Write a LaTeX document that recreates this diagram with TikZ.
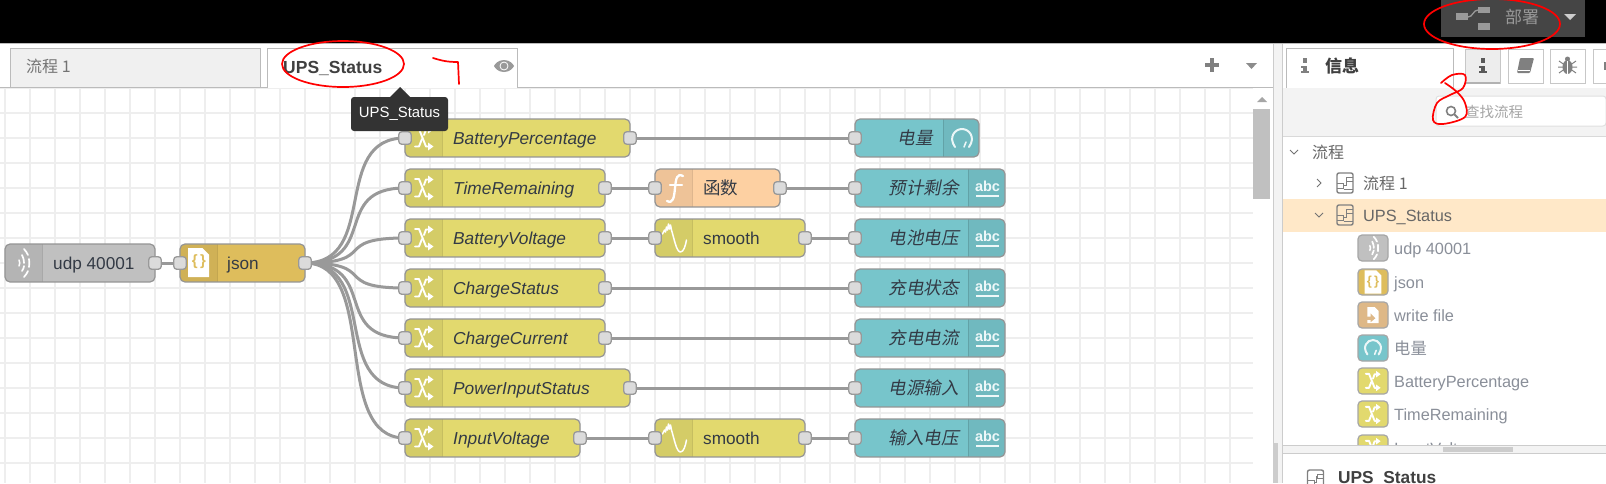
\documentclass[tikz,border=0pt]{standalone}
\usepackage{fontspec}
\setmainfont{Liberation Sans}
\newfontfamily\cjk{Noto Sans CJK SC}
\newfontfamily\cjkit[FakeSlant=0.2]{Noto Sans CJK SC}
\pgfdeclarelayer{under}
\pgfsetlayers{under,main}
\definecolor{gridc}{HTML}{EEEEEE}
\definecolor{wirec}{HTML}{999999}
\definecolor{txtc}{HTML}{333A45}
\definecolor{treec}{HTML}{8A8F99}
\definecolor{swapc}{HTML}{E2D96E}
\definecolor{jsonc}{HTML}{DEBD5C}
\definecolor{funcc}{HTML}{FDD0A2}
\definecolor{dashc}{HTML}{77C5CB}
\definecolor{udpc}{HTML}{C0C0C0}
\definecolor{filec}{HTML}{DEB887}
\definecolor{sidec}{HTML}{F3F3F3}
\definecolor{edgec}{HTML}{BBBBBB}
\definecolor{hilite}{HTML}{FFE8C8}
\newcommand{\fs}[1]{\fontsize{#1}{#1}\selectfont}
\tikzset{
  x=1pt,y=-1pt,
  wire/.style={draw=wirec,line width=3pt},
  port/.style={draw=wirec,fill=black!14,line width=1.3pt,rounded corners=3pt,minimum width=12.5pt,minimum height=12.5pt,inner sep=0pt},
  boxedge/.style={draw=black!42,line width=1.2pt,rounded corners=5pt,minimum height=38pt,inner sep=0pt},
  lbl/.style={inner sep=0pt,anchor=base west,text=txtc},
  lblr/.style={inner sep=0pt,anchor=base east,text=txtc},
  treetext/.style={inner sep=0pt,anchor=base west,text=treec},
  redmark/.style={draw=red,line width=1.7pt,line cap=round,line join=round},
  ico/.style={draw=white,line width=2pt,line cap=round},
}
% #1 name #2 x0 #3 x1 #4 y #5 fill #6 icon from #7 icon to #8 divider
\newcommand{\flownode}[8]{%
  \pgfmathsetmacro{\nw}{#3-#2}\pgfmathsetmacro{\nc}{(#3+#2)/2}%
  \begin{scope}
    \clip[rounded corners=5pt] (#2,#4-19) rectangle (#3,#4+19);
    \fill[#5] (#2,#4-19) rectangle (#3,#4+19);
    \fill[black,opacity=0.06] (#6,#4-19) rectangle (#7,#4+19);
    \draw[black,opacity=0.12,line width=1pt] (#8,#4-19) -- (#8,#4+19);
  \end{scope}
  \node[boxedge,minimum width=\nw pt] (#1) at (\nc,#4) {};
}
\newcommand{\iconswap}{%
  \draw[ico,line width=1.9pt,line join=round] (-9,-9) -- (-5,-9) -- (2,8.5) -- (5,8.5);
  \draw[ico,line width=1.9pt,line join=round] (-9,8.5) -- (-5,8.5) -- (-2,1);
  \draw[ico,line width=1.9pt,line join=round] (0,-3) -- (2,-8.5) -- (5,-8.5);
  \fill[white] (4,-12.5) -- (9.5,-8.5) -- (4,-4.5) -- cycle;
  \fill[white] (4,12.5) -- (9.5,8.5) -- (4,4.5) -- cycle;
}
\newcommand{\iconudp}{%
  \draw[ico,line width=1.5pt] (-4,-3) .. controls (-3,-1) and (-3,1) .. (-4,3);
  \draw[ico,line width=1.7pt] (-1,-8) .. controls (1,-4) and (1,-1) .. (1,0);
  \draw[ico,line width=1.7pt] (1,3) .. controls (1,5) and (0,6) .. (-1,8);
  \draw[ico,line width=1.7pt] (1,-14) .. controls (3,-12) and (4,-10) .. (5,-8);
  \draw[ico,line width=1.7pt] (6,-4) .. controls (6.5,-1) and (6.5,1) .. (6,4);
  \draw[ico,line width=1.7pt] (5,8) .. controls (4,10) and (3,12) .. (1,14);
}
\newcommand{\icondoc}{%
  \fill[white] (-10.5,-14.5) -- (4,-14.5) -- (10.5,-8) -- (10.5,14.5) -- (-10.5,14.5) -- cycle;
}
\newcommand{\icongauge}{%
  \draw[ico,draw=white!85!dashc,line width=2pt] (-7,8) .. controls (-14,-2) and (-7,-10) .. (0,-10) .. controls (7,-10) and (14,-2) .. (7,8);
  \draw[ico,draw=white!85!dashc,line width=1.6pt] (2,8) -- (4,3);
}
\newcommand{\iconfile}{%
  \fill[white] (-7,-10) -- (2,-10) -- (7,-5) -- (7,10) -- (-7,10) -- cycle;
  \fill[filec] (-9,2) -- (-3,2) -- (-3,-2) -- (3,4) -- (-3,9) -- (-3,6) -- (-9,6) -- cycle;
}
\newcommand{\flowicon}[1]{%
  \begin{scope}[shift={#1}]
    \draw[black!50,line width=1.4pt,rounded corners=2pt] (-8,-10) rectangle (8,10);
    \draw[black!50,line width=1pt] (8,-6) -- (1.5,-6) -- (1.5,-2) -- (8,-2);
    \draw[black!50,line width=1pt] (-8,0.5) -- (-1.5,0.5) -- (-1.5,5) -- (-8,5);
    \draw[black!50,line width=1pt] (-1.5,2) -- (1,2) -- (1,-4);
    \draw[black!50,line width=1pt] (-1.5,6) -- (8,6);
  \end{scope}
}
\newcommand{\infoicon}[3]{% x, y top, shade
  \fill[black!#3] (#1+0.5,#2) rectangle (#1+5,#2+4.5);
  \fill[black!#3] (#1-1,#2+7.5) rectangle (#1+5,#2+9.5);
  \fill[black!#3] (#1+0.5,#2+7.5) rectangle (#1+5,#2+14);
  \fill[black!#3] (#1-1,#2+13) rectangle (#1+6.5,#2+15);
}
\newcommand{\treerow}[5]{% name, y, fill, icon code, text
  \node[draw=black!35,line width=1.2pt,fill=#3,rounded corners=4pt,minimum width=30pt,minimum height=26pt,inner sep=0pt] (#1) at (1373,#2) {};
  \begin{scope}[shift={(1373,#2)},scale=0.8]#4\end{scope}
  \node[treetext] (#1t) at (1394,#2+6) {\fs{16.3}#5};
}
\begin{document}
\begin{tikzpicture}
\useasboundingbox (0,0) rectangle (1606,483);
% canvas grid
\begin{pgfonlayer}{under}
  \fill[white] (0,0) rectangle (1606,483);
  \foreach \gx in {5,30,...,1250} \draw[gridc,line width=2pt] (\gx,88) -- (\gx,483);
  \foreach \gy in {88,113,...,480} \draw[gridc,line width=2pt] (0,\gy) -- (1253,\gy);
\end{pgfonlayer}
% top bar
\fill[black] (0,0) rectangle (1606,43);
\draw[edgec,line width=1pt] (0,43.5) -- (1606,43.5);
\fill[white] (0,44) rectangle (1273,87);
\draw[edgec,line width=1pt] (0,87.5) -- (1273,87.5);
% deploy
\fill[black!73] (1441,0) rectangle (1585,37);
\fill[black!40] (1456,13) rectangle (1468,20);
\fill[black!40] (1478,7) rectangle (1490,13);
\fill[black!40] (1478,23) rectangle (1490,30);
\draw[black!40,line width=1.3pt] (1468,17) .. controls (1473,17) and (1473,10) .. (1478,10);
\node[inner sep=0pt,text=black!40] (deploy) at (1522,17) {\cjk\fs{17}部署};
\fill[black!20] (1564,14) -- (1576,14) -- (1570,20) -- cycle;
% tabs
\node[draw=edgec,fill=black!6,line width=1pt,minimum width=250pt,minimum height=39pt,inner sep=0pt] (tabone) at (135,67.5) {};
\node[inner sep=0pt,anchor=west,text=black!55] (tabonet) at (26,66) {\cjk\fs{16}流程\ 1};
\draw[edgec,line width=1pt,fill=white] (267,88) -- (267,48) -- (517,48) -- (517,88);
\node[lbl,text=black!75] (tabtwot) at (283,73) {\bfseries\fs{17.5}UPS\_Status};
\fill[black!40] (504,60) .. controls (510,60) and (513,64) .. (514,66) .. controls (513,68) and (510,72) .. (504,72) .. controls (498,72) and (495,68) .. (494,66) .. controls (495,64) and (498,60) .. (504,60) -- cycle;
\draw[white,line width=0.8pt] (504,66) circle[radius=4pt];
\fill[black!40] (504,66) circle[radius=2.5pt];
\fill[black!50] (1205,63) rectangle (1219,67);
\fill[black!50] (1210,58) rectangle (1214,72);
\fill[black!45] (1246,63) -- (1257,63) -- (1251.5,69) -- cycle;
% ---- flow nodes
\flownode{udp}{5}{155}{263}{udpc}{5}{42}{42}
\begin{scope}[shift={(23,263)}]\iconudp\end{scope}
\flownode{json}{180}{305}{263}{jsonc}{180}{217}{217}
\begin{scope}[shift={(198.5,262.5)}]\icondoc\end{scope}
\node[inner sep=0pt,text=jsonc] (jsonicon) at (199,262) {\bfseries\fs{15}\{\,\}};
\node[lbl] (udpt) at (53,269) {\fs{17.2}udp 40001};
\node[lbl] (jsont) at (227,269) {\fs{17.2}json};
\foreach \nm/\xr/\yy/\tx in {a/630/138/BatteryPercentage,b/605/188/TimeRemaining,c/605/238/BatteryVoltage,d/605/288/ChargeStatus,e/605/338/ChargeCurrent,f/630/388/PowerInputStatus,g/580/438/InputVoltage}{
  \flownode{\nm}{405}{\xr}{\yy}{swapc}{405}{442}{442}
  \begin{scope}[shift={(424,\yy)}]\iconswap\end{scope}
  \node[lbl] (\nm-t) at (453,\yy+6) {\itshape\fs{17.3}\tx};
  \node[port] (\nm-in) at (405,\yy) {};
  \node[port] (\nm-out) at (\xr,\yy) {};
}
% function
\flownode{fn}{655}{780}{188}{funcc}{655}{692}{692}
\draw[ico,line width=2.3pt] (667,201) .. controls (673,204) and (674,198) .. (675,188) .. controls (676,178) and (677,173) .. (683,176);
\draw[ico,line width=2.2pt] (670,185) -- (682,185);
\node[lbl] (fnt) at (703,194) {\cjk\fs{17.5}函数};
% smooth
\foreach \nm/\yy in {sa/238,sb/438}{
  \flownode{\nm}{655}{805}{\yy}{swapc}{655}{692}{692}
  \begin{scope}[shift={(674.5,\yy)}]
   \draw[ico,line width=1.5pt,line join=round] (-12,-4) -- (-10,-8) -- (-9,-6) -- (-8,-11) -- (-7,-8) -- (-6,-14) -- (-5,-9) -- (-4,-13) -- (-3,-8) .. controls (0,2) and (2,14) .. (6,14) .. controls (9,14) and (11,8) .. (12,2);
  \end{scope}
  \node[lbl] (\nm-t) at (703,\yy+6) {\fs{17.2}smooth};
  \node[port] (\nm-in) at (655,\yy) {};
  \node[port] (\nm-out) at (805,\yy) {};
}
% dashboard nodes
\flownode{gg}{855}{979}{138}{dashc}{943}{979}{943}
\begin{scope}[shift={(962,139)}]\icongauge\end{scope}
\node[lblr] (ggt) at (933,144) {\cjkit\fs{17.5}电量};
\foreach \nm/\yy/\tx in {h/188/预计剩余,i/238/电池电压,j/288/充电状态,k/338/充电电流,l/388/电源输入,m/438/输入电压}{
  \flownode{\nm}{855}{1005}{\yy}{dashc}{968}{1005}{968}
  \node[inner sep=0pt,text=white!88!dashc] (\nm-abc) at (987.5,\yy-2) {\bfseries\fs{14.5}abc};
  \draw[white!88!dashc,line width=1.5pt] (976,\yy+8) -- (999,\yy+8);
  \node[lblr] (\nm-t) at (959,\yy+6) {\cjkit\fs{17.5}\tx};
  \node[port] (\nm-in) at (855,\yy) {};
}
\node[port] (gg-in) at (855,138) {};
\node[port] (udp-out) at (155,263) {};
\node[port] (json-in) at (180,263) {};
\node[port] (json-out) at (305,263) {};
\node[port] (fn-in) at (655,188) {};
\node[port] (fn-out) at (780,188) {};
% wires
\begin{pgfonlayer}{under}
  \draw[wire] (udp-out.center) -- (json-in.center);
  \foreach \tg in {a,b,c,d,e,f,g}
    \draw[wire] (json-out.center) .. controls +(75,0) and +(-75,0) .. (\tg-in.center);
  \draw[wire] (a-out.center) -- (gg-in.center);
  \draw[wire] (b-out.center) -- (fn-in.center);
  \draw[wire] (fn-out.center) -- (h-in.center);
  \draw[wire] (c-out.center) -- (sa-in.center);
  \draw[wire] (sa-out.center) -- (i-in.center);
  \draw[wire] (d-out.center) -- (j-in.center);
  \draw[wire] (e-out.center) -- (k-in.center);
  \draw[wire] (f-out.center) -- (l-in.center);
  \draw[wire] (g-out.center) -- (sb-in.center);
  \draw[wire] (sb-out.center) -- (m-in.center);
\end{pgfonlayer}
% tooltip, above the nodes
\fill[black!80] (390,97) -- (400,87) -- (410,97) -- cycle;
\node[fill=black!80,rounded corners=3pt,minimum width=97pt,minimum height=34pt,inner sep=0pt,text=white] (tip) at (399.5,114) {\fs{14.9}UPS\_Status};
% scrollbar of canvas
\fill[white] (1253,88) rectangle (1273,483);
\fill[udpc] (1253,109) rectangle (1270,199);
\fill[black!35] (1257,102) -- (1267,102) -- (1262,97) -- cycle;
% sidebar
\fill[white] (1282.5,44) rectangle (1606,483);
\fill[sidec] (1273,44) rectangle (1282,483);
\draw[black!20,line width=1pt] (1273,44) -- (1273,483);
\draw[black!20,line width=1pt] (1282,44) -- (1282,483);
\fill[black!20] (1274,443) rectangle (1278,483);
\draw[edgec,line width=1pt,fill=white] (1286,88) -- (1286,48) -- (1453,48) -- (1453,88);
\infoicon{1302}{58}{50}
\node[inner sep=0pt,text=black!75] (infot) at (1342,66) {\cjk\bfseries\fs{17}信息};
\node[draw=black!22,fill=black!7,line width=1pt,minimum width=35pt,minimum height=34pt,inner sep=0pt] (btna) at (1482.5,66) {};
\draw[black!30,line width=2pt] (1465,83) -- (1500,83);
\infoicon{1480}{58}{65}
\node[draw=black!22,line width=1pt,minimum width=35pt,minimum height=34pt,inner sep=0pt] (btnb) at (1525.5,66) {};
\fill[black!50,rounded corners=1pt] (1520,58) -- (1534,58) -- (1530,73) -- (1517,73) -- cycle;
\draw[white,line width=0.8pt] (1518,70.5) -- (1530,70.5);
\node[draw=black!22,line width=1pt,minimum width=35pt,minimum height=34pt,inner sep=0pt] (btnc) at (1567.5,66) {};
\fill[black!50] (1567.5,67) ellipse[x radius=5pt,y radius=7pt];
\draw[black!50,line width=1pt] (1559,61) -- (1576,73) (1576,61) -- (1559,73) (1558,67) -- (1577,67);
\fill[black!50] (1567.5,59) circle[radius=2.5pt];
\draw[white,line width=0.7pt] (1567.5,61) -- (1567.5,74);
\draw[black!22,line width=1pt] (1606,49) -- (1593,49) -- (1593,83) -- (1606,83);
\fill[black!50] (1604,62) rectangle (1606,70);
% search bar
\fill[sidec] (1282.5,88) rectangle (1606,136);
\draw[black!15,line width=1pt] (1282.5,136) -- (1606,136);
\draw[black!12,line width=1pt,fill=white,rounded corners=3pt] (1436,96) -- (1606,96) -- (1606,126) -- (1436,126) -- cycle;
\draw[black!50,line width=1.6pt] (1451,111) circle[radius=4.5pt];
\draw[black!50,line width=2pt] (1454.5,114.5) -- (1458,118);
\node[inner sep=0pt,anchor=west,text=black!35] (findt) at (1465,112) {\cjk\fs{14.5}查找流程};
% tree
\draw[black!55,line width=1pt] (1290,150) -- (1294,154) -- (1298,150);
\node[inner sep=0pt,anchor=west,text=black!60] (root) at (1312,152) {\cjk\fs{16}流程};
\draw[black!55,line width=1pt] (1317,179) -- (1321,183) -- (1317,187);
\flowicon{(1345,183)}
\node[inner sep=0pt,anchor=west,text=black!60] (fone) at (1363,183) {\cjk\fs{16}流程\ 1};
\fill[hilite] (1282.5,199) rectangle (1606,232);
\draw[black!55,line width=1pt] (1315,213) -- (1319,217) -- (1323,213);
\flowicon{(1345,215)}
\node[treetext,text=black!60] (ftwo) at (1363,221) {\fs{16.3}UPS\_Status};
\begin{scope}
  \clip (1282.5,140) rectangle (1606,445);
  \treerow{tudp}{248}{udpc}{\iconudp}{udp 40001}
  \treerow{tjson}{282}{jsonc}{\icondoc\node[inner sep=0pt,text=jsonc] {\bfseries\fs{13}\{\,\}};}{json}
  \treerow{tfile}{315}{filec}{\iconfile}{write file}
  \treerow{tgg}{348}{dashc}{\icongauge}{\cjk 电量}
  \treerow{tbp}{381}{swapc}{\iconswap}{BatteryPercentage}
  \treerow{ttr}{414}{swapc}{\iconswap}{TimeRemaining}
  \treerow{tiv}{448}{swapc}{\iconswap}{InputVoltage}
\end{scope}
% sidebar bottom
\fill[sidec] (1282.5,445) rectangle (1606,453);
\draw[black!20,line width=1pt] (1282.5,445) -- (1606,445);
\draw[black!20,line width=1pt] (1282.5,453) -- (1606,453);
\fill[black!20] (1443,447) rectangle (1513,452);
\flowicon{(1315.5,480)}
\node[lbl,text=black!75] (bott) at (1338,483) {\bfseries\fs{17.3}UPS\_Status};
% red handwriting
\draw[redmark] (343,64) ellipse[x radius=61pt,y radius=23pt];
\draw[redmark] (433,58) .. controls (440,60) and (445,62) .. (458,62) -- (459,84);
\draw[redmark] (1492,24) ellipse[x radius=68pt,y radius=25pt];
\draw[redmark] plot[smooth,tension=0.6] coordinates {(1441,83) (1452,75) (1465,75) (1463,88) (1450,95) (1437,103) (1433,120) (1443,124) (1465,117) (1465,103) (1457,92) (1445,83)};
\end{tikzpicture}
\end{document}
